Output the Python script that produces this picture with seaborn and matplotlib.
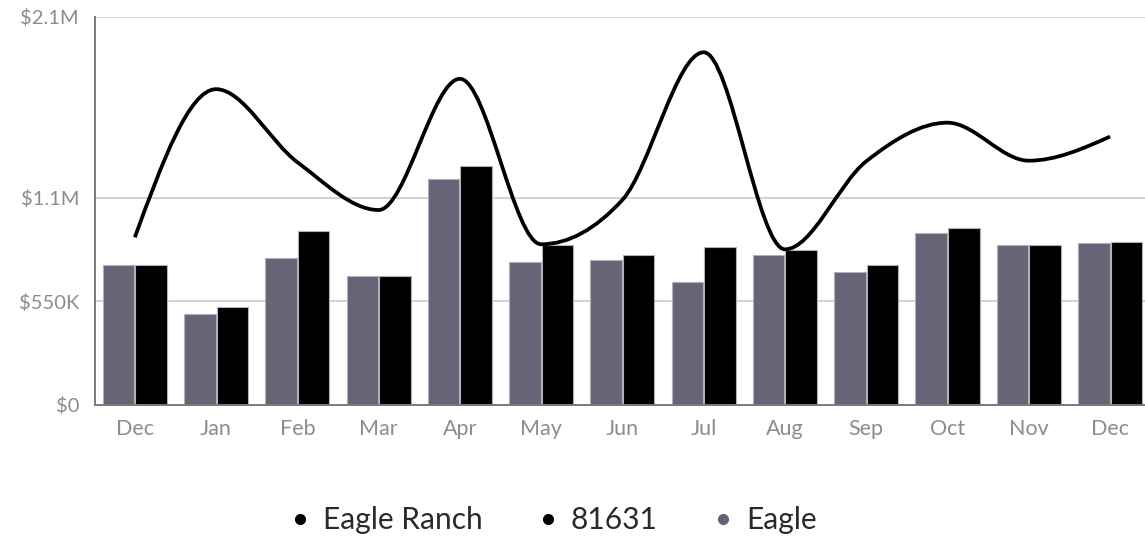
import numpy as np
import pandas as pd
import matplotlib
matplotlib.use("Agg")
import matplotlib.pyplot as plt
from matplotlib.path import Path
from matplotlib.patches import PathPatch
from matplotlib.lines import Line2D
import seaborn as sns

# Monthly values (USD)
months = ["Dec", "Jan", "Feb", "Mar", "Apr", "May", "Jun",
          "Jul", "Aug", "Sep", "Oct", "Nov", "Dec"]
eagle = [744000, 485000, 780000, 684000, 1199000, 762000, 771000,
         652000, 797000, 708000, 912000, 849000, 861000]
zip_81631 = [744000, 521000, 925000, 684000, 1270000, 849000, 797000,
             841000, 824000, 746000, 942000, 849000, 865000]
eagle_ranch = [891000, 1678000, 1290000, 1036000, 1733000, 854000, 1090000,
               1874000, 827000, 1295000, 1500000, 1298000, 1426000]

y_ticks = [0, 550000, 1100000]
y_tick_labels = ["$0", "$550K", "$1.1M", "$2.1M"]

GRAY_BAR = "#62627a"
BLACK = "#000000"
AXIS_COL = "#7a7a7a"
TEXT_COL = "#8c8c8c"

sns.set_style("white")
plt.rcParams["font.family"] = ["Lato", "DejaVu Sans"]

n = len(months)
df = pd.DataFrame({
    "idx": list(range(n)) * 2,
    "series": ["Eagle"] * n + ["81631"] * n,
    "value": eagle + zip_81631,
})

fig = plt.figure(figsize=(11.45, 5.38), dpi=100)
ax = fig.add_axes([95 / 1145, 133 / 538, 1050 / 1145, 388 / 538])

sns.barplot(data=df, x="idx", y="value", hue="series",
            hue_order=["Eagle", "81631"],
            palette={"Eagle": GRAY_BAR, "81631": BLACK},
            width=0.8, gap=0.03, edgecolor="#b0b0b8", linewidth=0.8,
            legend=False, ax=ax, zorder=2)


def monotone_path(xs, ys):
    """Cubic Bezier path with monotone (d3 monotoneX style) tangents."""
    xs = np.asarray(xs, float)
    ys = np.asarray(ys, float)
    h = np.diff(xs)
    s = np.diff(ys) / h
    t = np.zeros_like(ys)
    for i in range(1, len(ys) - 1):
        s0, s1 = s[i - 1], s[i]
        p = (s0 * h[i] + s1 * h[i - 1]) / (h[i - 1] + h[i])
        t[i] = (np.sign(s0) + np.sign(s1)) * min(abs(s0), abs(s1), 0.5 * abs(p))
    t[0] = (3 * s[0] - t[1]) / 2
    t[-1] = (3 * s[-1] - t[-2]) / 2
    verts = [(xs[0], ys[0])]
    codes = [Path.MOVETO]
    for i in range(len(xs) - 1):
        d = h[i] / 3
        verts += [(xs[i] + d, ys[i] + d * t[i]),
                  (xs[i + 1] - d, ys[i + 1] - d * t[i + 1]),
                  (xs[i + 1], ys[i + 1])]
        codes += [Path.CURVE4] * 3
    return Path(verts, codes)


line_path = monotone_path(np.arange(n), eagle_ranch)
ax.add_patch(PathPatch(line_path, facecolor="none", edgecolor=BLACK,
                       linewidth=2.7, zorder=4, capstyle="butt"))

y_top = max(eagle_ranch) * 1.1
ax.set_ylim(0, y_top)
ax.set_xlim(-0.49, 12.43)
ax.set_yticks(y_ticks + [y_top])
ax.set_yticklabels(y_tick_labels)
ax.set_xticks(range(n))
ax.set_xticklabels(months)
ax.set_xlabel("")
ax.set_ylabel("")

ax.yaxis.grid(True, color="#d2d2d2", linewidth=1.4, zorder=0)
ax.xaxis.grid(False)
ax.set_axisbelow(True)

for side in ["top", "right"]:
    ax.spines[side].set_visible(False)
for side in ["left", "bottom"]:
    ax.spines[side].set_color(AXIS_COL)
    ax.spines[side].set_linewidth(1.4)
    ax.spines[side].set_zorder(3)

ax.tick_params(axis="y", length=8.5, width=1.4, color=AXIS_COL, pad=3,
               labelsize=14.5, labelcolor=TEXT_COL)
ax.tick_params(axis="x", length=7, width=1.4, color=AXIS_COL, pad=3,
               labelsize=15.5, labelcolor=TEXT_COL)

handles = [
    Line2D([], [], linestyle="none", marker="o", markersize=7,
           color=BLACK, label="Eagle Ranch"),
    Line2D([], [], linestyle="none", marker="o", markersize=7,
           color=BLACK, label="81631"),
    Line2D([], [], linestyle="none", marker="o", markersize=7,
           color=GRAY_BAR, label="Eagle"),
]
leg = fig.legend(handles=handles, loc="center", bbox_to_anchor=(0.481, 0.033),
                 ncol=3, frameon=False, fontsize=21.5, handletextpad=0.26,
                 columnspacing=1.7, handlelength=1.0)
for txt in leg.get_texts():
    txt.set_color("#2a2a2a")

fig.savefig("out.png", dpi=100)
